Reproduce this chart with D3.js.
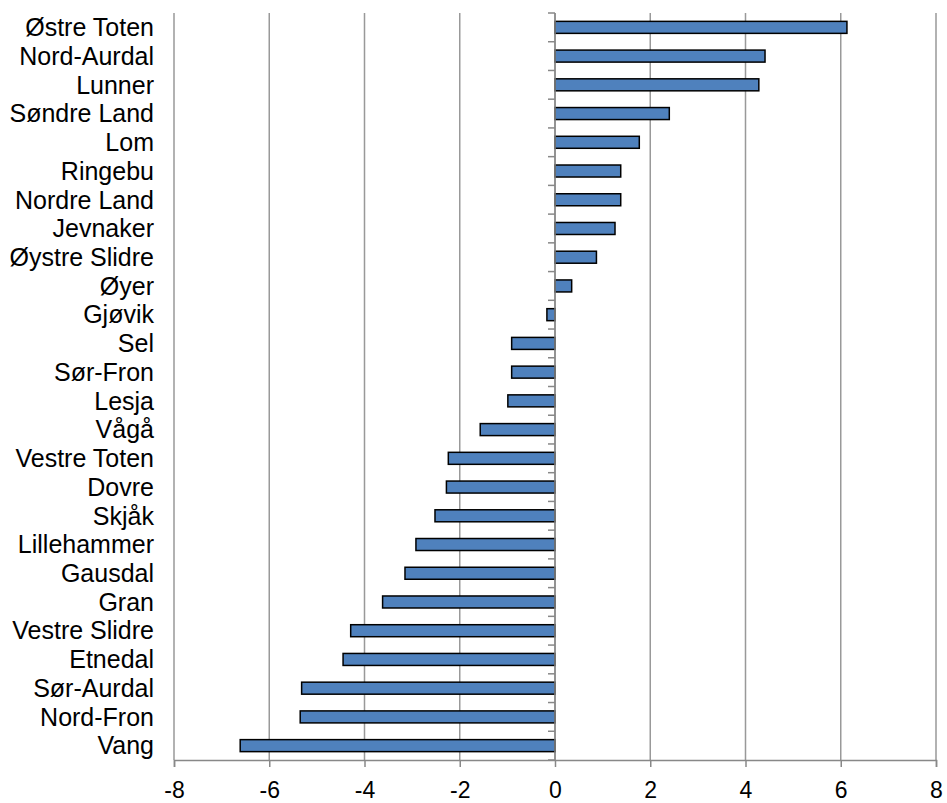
<!DOCTYPE html>
<html>
<head>
<meta charset="utf-8">
<script src="https://cdn.jsdelivr.net/npm/d3@7"></script>
<style>
    body { margin: 0; background: #fff; }
    text { font-family: "Liberation Sans", Arial, sans-serif; fill: #000; }
</style>
</head>
<body>
<svg id="chart" width="947" height="803"></svg>
<script>
// kommuner, top to bottom
var kommuner = ["Østre Toten", "Nord-Aurdal", "Lunner", "Søndre Land", "Lom", "Ringebu",
    "Nordre Land", "Jevnaker", "Øystre Slidre", "Øyer", "Gjøvik", "Sel", "Sør-Fron", "Lesja",
    "Vågå", "Vestre Toten", "Dovre", "Skjåk", "Lillehammer", "Gausdal", "Gran",
    "Vestre Slidre", "Etnedal", "Sør-Aurdal", "Nord-Fron", "Vang"];
var verdier = [6.13, 4.41, 4.28, 2.40, 1.77, 1.38,
    1.38, 1.26, 0.87, 0.35, -0.17, -0.91, -0.91, -0.99,
    -1.57, -2.24, -2.28, -2.52, -2.92, -3.15, -3.62,
    -4.29, -4.45, -5.32, -5.35, -6.61];
var x_ticks = [-8, -6, -4, -2, 0, 2, 4, 6, 8];

var margin = {top: 13, right: 11, bottom: 43, left: 174};
var width = 947, height = 803;
var bar_height = 12;

var svg = d3.select("#chart");

var x = d3.scaleLinear()
    .domain([-8, 8])
    .range([margin.left, width - margin.right]);

var n = kommuner.length;
var step = (height - margin.bottom - margin.top) / n;
var pad = 1 - bar_height / step;
var y = d3.scaleBand()
    .domain(kommuner)
    .range([margin.top, height - margin.bottom])
    .paddingInner(pad)
    .paddingOuter(pad / 2);

var bottom = height - margin.bottom;

// gridlines
svg.append("g")
    .selectAll("line")
    .data(x_ticks)
    .enter()
    .append("line")
    .attr("x1", function (d) { return x(d); })
    .attr("x2", function (d) { return x(d); })
    .attr("y1", margin.top)
    .attr("y2", bottom)
    .attr("stroke", "#999")
    .attr("stroke-width", 1.5);

// x axis
var xAxis = svg.append("g")
    .attr("transform", "translate(0," + bottom + ")")
    .call(d3.axisBottom(x).tickValues(x_ticks).tickSize(7).tickPadding(15).tickFormat(d3.format("d")));
xAxis.select(".domain").attr("stroke", "#888").attr("stroke-width", 1.5);
xAxis.selectAll(".tick line").attr("stroke", "#888").attr("stroke-width", 1.5);
xAxis.selectAll(".tick text")
    .style("font-family", "'Liberation Sans', Arial, sans-serif")
    .style("font-size", "23px")
    .attr("fill", "#000")
    .text(function (d) { return d < 0 ? "-" + Math.abs(d) : d; });

// bars
svg.append("g")
    .selectAll("rect")
    .data(verdier)
    .enter()
    .append("rect")
    .attr("x", function (d) { return x(Math.min(0, d)); })
    .attr("y", function (d, i) { return y(kommuner[i]); })
    .attr("width", function (d) { return Math.abs(x(d) - x(0)); })
    .attr("height", y.bandwidth())
    .attr("fill", "#4F81BD")
    .attr("stroke", "#000")
    .attr("stroke-width", 1.5);

// category axis at zero
var zero = x(0);
svg.append("line")
    .attr("x1", zero).attr("x2", zero)
    .attr("y1", margin.top).attr("y2", bottom)
    .attr("stroke", "#888")
    .attr("stroke-width", 1.5);

var boundaries = d3.range(n + 1).map(function (i) { return margin.top + i * step; });
svg.append("g")
    .selectAll("line")
    .data(boundaries)
    .enter()
    .append("line")
    .attr("x1", zero - 7).attr("x2", zero)
    .attr("y1", function (d) { return d; })
    .attr("y2", function (d) { return d; })
    .attr("stroke", "#888")
    .attr("stroke-width", 1.5);

// category labels
svg.append("g")
    .selectAll("text")
    .data(kommuner)
    .enter()
    .append("text")
    .attr("x", 154)
    .attr("y", function (d) { return y(d) + y.bandwidth() / 2; })
    .attr("dy", "0.35em")
    .attr("text-anchor", "end")
    .style("font-size", "25px")
    .text(function (d) { return d; });
</script>
</body>
</html>
